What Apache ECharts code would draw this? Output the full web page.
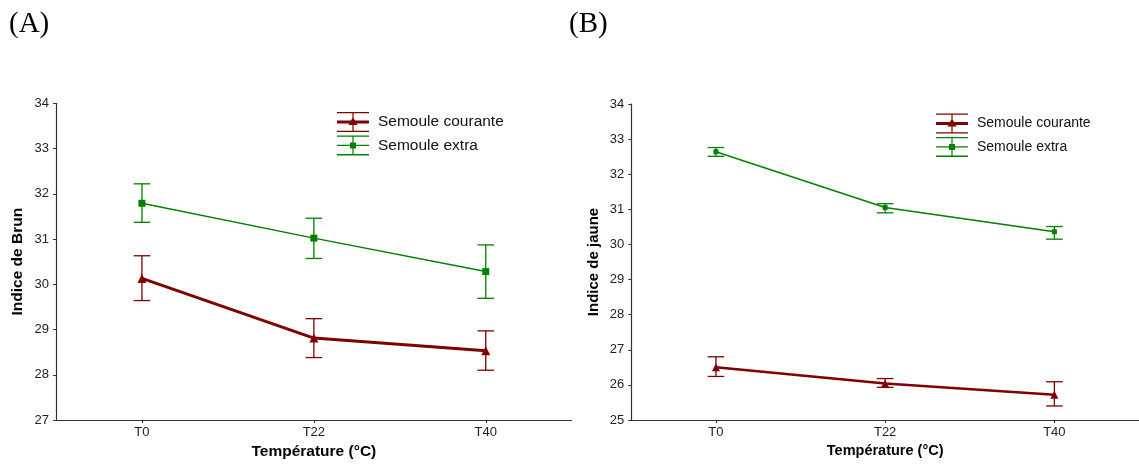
<!DOCTYPE html>
<html>
<head>
<meta charset="utf-8">
<script src="https://cdn.jsdelivr.net/npm/echarts@6/dist/echarts.min.js"></script>
<style>
html,body{margin:0;padding:0;background:#fff;}
#chart{width:1139px;height:472px;}
</style>
</head>
<body>
<div id="chart"></div>
<script>
// ---- Data ----
const categories = ['T0', 'T22', 'T40'];
const seriesNames = ['Semoule courante', 'Semoule extra'];

// Panel A : Indice de Brun
const brunCourante = [30.13, 28.81, 28.53];
const brunCouranteLow = [29.64, 28.38, 28.10];
const brunCouranteHigh = [30.63, 29.24, 28.97];
const brunExtra = [31.79, 31.02, 30.28];
const brunExtraLow = [31.37, 30.57, 29.69];
const brunExtraHigh = [32.22, 31.46, 30.87];

// Panel B : Indice de jaune
const jauneCourante = [26.50, 26.04, 25.72];
const jauneCouranteLow = [26.24, 25.93, 25.40];
const jauneCouranteHigh = [26.80, 26.18, 26.09];
const jauneExtra = [32.64, 31.05, 30.36];
const jauneExtraLow = [32.51, 30.90, 30.15];
const jauneExtraHigh = [32.76, 31.16, 30.51];

const yTicksA = {min: 27, max: 34, interval: 1};
const yTicksB = {min: 25, max: 34, interval: 1};

// ---- Styles ----
const RED = '#800000';
const GREEN = '#008000';
const AXIS = '#333333';
const SANS = 'Liberation Sans, Arial, sans-serif';

const iconRed = 'path://M0 0H32V1.3H0Z M0 18.7H32V20H0Z M15.4 0H16.6V20H15.4Z M0 8.5H32V11.5H0Z M16 5L20.5 13L11.5 13Z';
const iconGreen = 'path://M0 0H32V1.3H0Z M0 18.7H32V20H0Z M15.4 0H16.6V20H15.4Z M0 9.3H32V10.7H0Z M13 7H19V13H13Z';

function errData(low, high) {
  return low.map((l, i) => [i, l, high[i]]);
}

function errorSeries(name, low, high, color, axisIndex) {
  return {
    type: 'custom',
    name: name,
    xAxisIndex: axisIndex,
    yAxisIndex: axisIndex,
    data: errData(low, high),
    encode: {x: 0, y: [1, 2]},
    z: 1,
    silent: true,
    renderItem: function (params, api) {
      const xi = api.value(0);
      const top = api.coord([xi, api.value(2)]);
      const bot = api.coord([xi, api.value(1)]);
      const hw = 8.3;
      const style = {stroke: color, lineWidth: 1.3, fill: null};
      return {
        type: 'group',
        children: [
          {type: 'line', shape: {x1: top[0], y1: top[1], x2: bot[0], y2: bot[1]}, style: style},
          {type: 'line', shape: {x1: top[0] - hw, y1: top[1], x2: top[0] + hw, y2: top[1]}, style: style},
          {type: 'line', shape: {x1: bot[0] - hw, y1: bot[1], x2: bot[0] + hw, y2: bot[1]}, style: style}
        ]
      };
    }
  };
}

function lineSeries(name, values, color, width, symbol, size, axisIndex) {
  return {
    type: 'line',
    name: name,
    xAxisIndex: axisIndex,
    yAxisIndex: axisIndex,
    data: values,
    symbol: symbol,
    symbolSize: size,
    showSymbol: true,
    z: 3,
    lineStyle: {color: color, width: width},
    itemStyle: {color: color, borderWidth: 0},
    emphasis: {disabled: true}
  };
}

function xAxisCfg(gridIndex, nameSize, nameGap) {
  return {
    type: 'category',
    gridIndex: gridIndex,
    data: categories,
    boundaryGap: true,
    name: 'Température (°C)',
    nameLocation: 'middle',
    nameGap: nameGap,
    nameTextStyle: {fontFamily: SANS, fontWeight: 'bold', fontSize: nameSize, color: '#000'},
    axisLine: {show: true, lineStyle: {color: AXIS, width: 1.2}},
    axisTick: {show: true, alignWithLabel: true, length: 3, lineStyle: {color: AXIS}},
    axisLabel: {fontFamily: SANS, fontSize: 13, color: '#222', margin: 6},
    splitLine: {show: false}
  };
}

function yAxisCfg(gridIndex, ticks, name, nameSize) {
  return {
    type: 'value',
    gridIndex: gridIndex,
    min: ticks.min,
    max: ticks.max,
    interval: ticks.interval,
    name: name,
    nameLocation: 'middle',
    nameRotate: 90,
    nameGap: 30,
    nameTextStyle: {fontFamily: SANS, fontWeight: 'bold', fontSize: nameSize, color: '#000'},
    axisLine: {show: true, lineStyle: {color: AXIS, width: 1.2}},
    axisTick: {show: true, length: 3, lineStyle: {color: AXIS}},
    axisLabel: {fontFamily: SANS, fontSize: 13, color: '#222', margin: 7},
    splitLine: {show: false}
  };
}

function legendCfg(left, top, fontSize) {
  return {
    orient: 'vertical',
    left: left,
    top: top,
    padding: 0,
    itemWidth: 32,
    itemHeight: 20,
    itemGap: 3.4,
    selectedMode: false,
    itemStyle: {borderWidth: 0},
    textStyle: {fontFamily: SANS, fontSize: fontSize, color: '#111', padding: [0, 0, 0, 4]},
    data: [
      {name: seriesNames[0], icon: iconRed, itemStyle: {color: RED}},
      {name: seriesNames[1], icon: iconGreen, itemStyle: {color: GREEN}}
    ]
  };
}

const option = {
  backgroundColor: '#fff',
  animation: false,
  title: [
    {text: '(A)', left: 9, top: 10, padding: 0,
     textStyle: {fontFamily: 'Liberation Serif, Times New Roman, serif', fontWeight: 'normal', fontSize: 29, color: '#000'}},
    {text: '(B)', left: 569, top: 10, padding: 0,
     textStyle: {fontFamily: 'Liberation Serif, Times New Roman, serif', fontWeight: 'normal', fontSize: 29, color: '#000'}}
  ],
  legend: [
    legendCfg(337, 112, 15.5),
    legendCfg(936, 113.5, 14)
  ],
  grid: [
    {left: 56, right: 567.3, top: 103.3, bottom: 52, containLabel: false},
    {left: 631.3, right: -9.7, top: 104, bottom: 52, containLabel: false}
  ],
  xAxis: [xAxisCfg(0, 15.5, 20), xAxisCfg(1, 14.5, 21)],
  yAxis: [
    yAxisCfg(0, yTicksA, 'Indice de Brun', 15.5),
    yAxisCfg(1, yTicksB, 'Indice de jaune', 15)
  ],
  series: [
    errorSeries('err-courante-A', brunCouranteLow, brunCouranteHigh, RED, 0),
    errorSeries('err-extra-A', brunExtraLow, brunExtraHigh, GREEN, 0),
    lineSeries(seriesNames[0], brunCourante, RED, 3, 'triangle', 9, 0),
    lineSeries(seriesNames[1], brunExtra, GREEN, 1.5, 'rect', 7, 0),
    errorSeries('err-courante-B', jauneCouranteLow, jauneCouranteHigh, RED, 1),
    errorSeries('err-extra-B', jauneExtraLow, jauneExtraHigh, GREEN, 1),
    lineSeries(seriesNames[0], jauneCourante, RED, 2.5, 'triangle', 8, 1),
    lineSeries(seriesNames[1], jauneExtra, GREEN, 1.5, 'rect', 5, 1)
  ]
};

const chart = echarts.init(document.getElementById('chart'), null, {renderer: 'canvas'});
chart.setOption(option);
</script>
</body>
</html>
